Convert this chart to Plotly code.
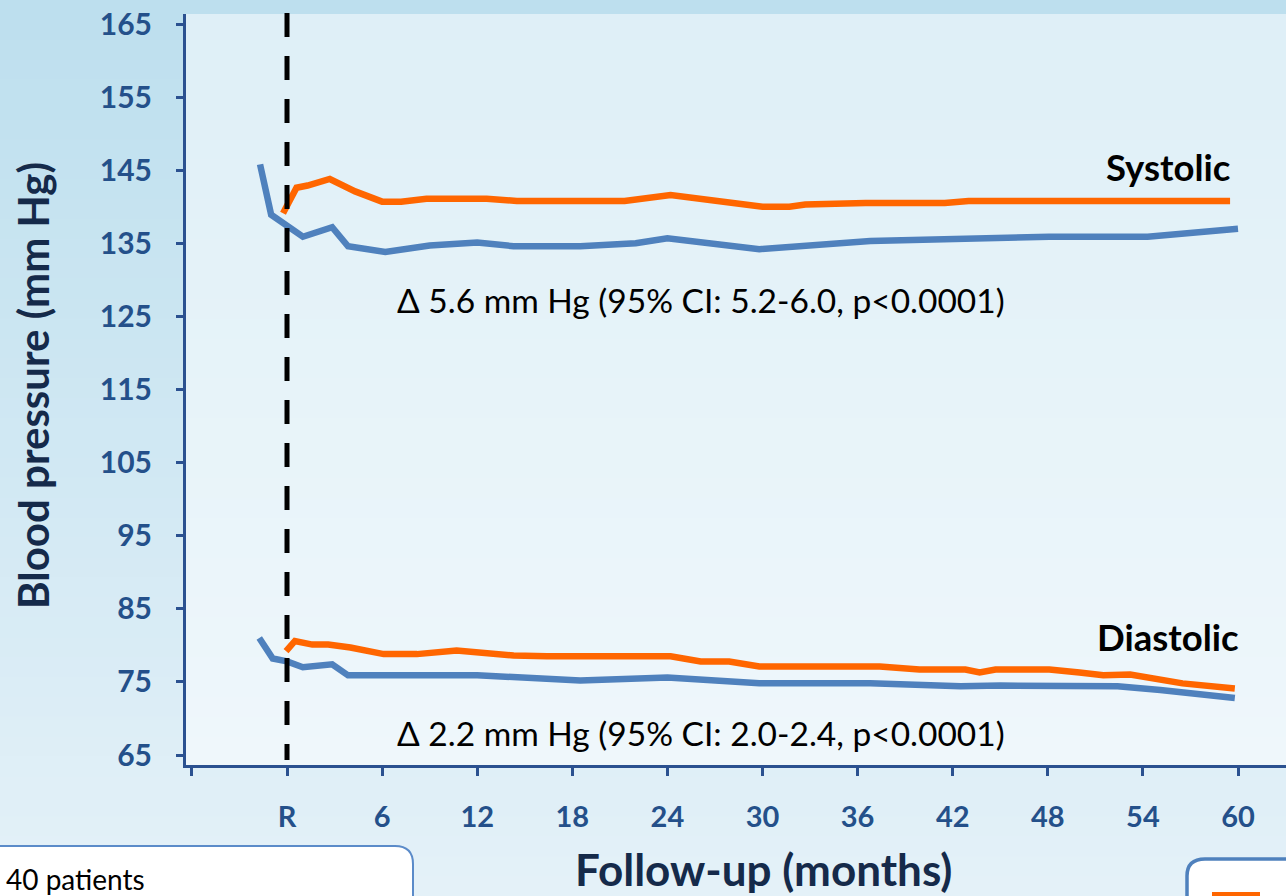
import plotly.graph_objects as go

# ---------------- data ----------------
sys_ctrl_month = [-1.7, -1.0, 1.0, 2.85, 3.85, 6.2, 9.0, 12.0, 14.3, 18.5, 22.0, 24.0, 29.8, 36.8, 48.1, 54.3, 60.0]
sys_ctrl_bp = [145.8, 138.9, 135.9, 137.2, 134.6, 133.8, 134.7, 135.1, 134.6, 134.6, 135.0, 135.7, 134.2, 135.3, 135.9, 135.9, 137.0]

sys_int_month = [-0.25, 0.6, 1.3, 2.7, 4.3, 6.0, 7.2, 8.8, 12.6, 14.5, 21.3, 24.2, 30.0, 31.7, 32.7, 36.5, 41.5, 43.0, 59.5]
sys_int_bp = [139.1, 142.6, 142.9, 143.8, 142.1, 140.7, 140.7, 141.1, 141.1, 140.8, 140.8, 141.6, 140.0, 140.0, 140.3, 140.5, 140.5, 140.8, 140.8]

dia_ctrl_month = [-1.75, -0.9, 0.0, 1.0, 2.85, 3.85, 6.1, 12.0, 18.5, 24.0, 29.8, 36.8, 42.5, 45.0, 52.4, 55.1, 59.8]
dia_ctrl_bp = [81.0, 78.2, 77.8, 77.0, 77.4, 75.9, 75.9, 75.9, 75.2, 75.6, 74.8, 74.8, 74.4, 74.5, 74.4, 73.9, 72.8]

dia_int_month = [-0.06, 0.5, 1.6, 2.6, 4.0, 6.1, 8.2, 10.7, 14.3, 16.4, 24.2, 26.1, 27.9, 29.8, 37.4, 39.9, 42.8, 43.7, 44.7, 48.1, 50.0, 51.5, 53.2, 54.4, 56.5, 59.8]
dia_int_bp = [79.2, 80.6, 80.1, 80.1, 79.7, 78.8, 78.8, 79.3, 78.6, 78.5, 78.5, 77.8, 77.8, 77.1, 77.1, 76.7, 76.7, 76.3, 76.7, 76.7, 76.3, 75.9, 76.0, 75.5, 74.8, 74.1]

x_tickvals = [-6, 0, 6, 12, 18, 24, 30, 36, 42, 48, 54, 60, 66]
x_ticktext = ["", "R", "6", "12", "18", "24", "30", "36", "42", "48", "54", "60", ""]
y_tickvals = [65, 75, 85, 95, 105, 115, 125, 135, 145, 155, 165]

sys_delta_text = "Δ 5.6 mm Hg (95% CI: 5.2-6.0, p<0.0001)"
dia_delta_text = "Δ 2.2 mm Hg (95% CI: 2.0-2.4, p<0.0001)"

# ---------------- layout geometry ----------------
W, H = 1286, 896
L, T, R_, B = 186, 14, 0, 131
PW, PH = W - L - R_, H - T - B


def px(x):
    return (x - L) / PW


def py(y):
    return (H - B - y) / PH


BLUE = "#4F81BD"
ORANGE = "#FF6600"
TICK = "#24508A"
AXIS = "#2B5190"
TITLE = "#152a4a"
LW = 6.5

fig = go.Figure()
fig.add_trace(go.Scatter(x=sys_ctrl_month, y=sys_ctrl_bp, mode="lines",
                         line=dict(color=BLUE, width=LW), hoverinfo="skip"))
fig.add_trace(go.Scatter(x=dia_ctrl_month, y=dia_ctrl_bp, mode="lines",
                         line=dict(color=BLUE, width=LW), hoverinfo="skip"))
fig.add_trace(go.Scatter(x=sys_int_month, y=sys_int_bp, mode="lines",
                         line=dict(color=ORANGE, width=LW), hoverinfo="skip"))
fig.add_trace(go.Scatter(x=dia_int_month, y=dia_int_bp, mode="lines",
                         line=dict(color=ORANGE, width=LW), hoverinfo="skip"))

shapes = []
# background vertical gradient
top_c = (189, 223, 238)
bot_c = (228, 241, 248)
nb = 45
for i in range(nb):
    t = i / (nb - 1)
    c = tuple(round(top_c[k] + (bot_c[k] - top_c[k]) * t) for k in range(3))
    y0 = i * H / nb
    y1 = (i + 1) * H / nb + 1
    shapes.append(dict(type="rect", xref="paper", yref="paper",
                       x0=px(-2), x1=px(W + 2), y0=py(y1), y1=py(y0),
                       fillcolor="rgb(%d,%d,%d)" % c, line=dict(width=0), layer="below"))
# lighter plot area
shapes.append(dict(type="rect", xref="paper", yref="paper", x0=0, x1=1, y0=0, y1=1,
                   fillcolor="rgba(255,255,255,0.5)", line=dict(width=0), layer="below"))
# randomisation line
shapes.append(dict(type="line", xref="x", yref="paper", x0=0, x1=0, y0=py(13), y1=py(760),
                   line=dict(color="black", width=5, dash="24px,19px"), layer="above"))
# bottom-left box
shapes.append(dict(type="path", xref="paper", yref="paper",
                   path="M %f %f L %f %f L %f %f Q %f %f %f %f L %f %f Z" % (
                       px(-5), py(905), px(-5), py(846), px(395), py(846),
                       px(413), py(846), px(413), py(864), px(413), py(905)),
                   fillcolor="white", line=dict(color="#5B8BC9", width=2), layer="above"))
# bottom-right box
shapes.append(dict(type="path", xref="paper", yref="paper",
                   path="M %f %f L %f %f Q %f %f %f %f L %f %f L %f %f Z" % (
                       px(1187), py(905), px(1187), py(876), px(1187), py(859),
                       px(1205), py(859), px(1295), py(859), px(1295), py(905)),
                   fillcolor="white", line=dict(color=BLUE, width=3.5), layer="above"))
shapes.append(dict(type="rect", xref="paper", yref="paper",
                   x0=px(1212), x1=px(1260), y0=py(900), y1=py(892),
                   fillcolor=ORANGE, line=dict(width=0), layer="above"))

annotations = [
    dict(text=sys_delta_text, xref="paper", yref="paper", x=px(395), y=py(300),
         xanchor="left", yanchor="middle", showarrow=False,
         font=dict(family="Lato", size=33.5, color="black")),
    dict(text=dia_delta_text, xref="paper", yref="paper", x=px(395), y=py(733),
         xanchor="left", yanchor="middle", showarrow=False,
         font=dict(family="Lato", size=33.5, color="black")),
    dict(text="Systolic", xref="paper", yref="paper", x=px(1233), y=py(167),
         xanchor="right", yanchor="middle", showarrow=False,
         font=dict(family="Lato", size=36.5, color="black", weight="bold")),
    dict(text="Diastolic", xref="paper", yref="paper", x=px(1241), y=py(637),
         xanchor="right", yanchor="middle", showarrow=False,
         font=dict(family="Lato", size=36.5, color="black", weight="bold")),
    dict(text="Blood pressure (mm Hg)", xref="paper", yref="paper", x=px(33), y=py(386),
         xanchor="center", yanchor="middle", textangle=-90, showarrow=False,
         font=dict(family="Lato", size=42, color=TITLE, weight="bold")),
    dict(text="Follow-up (months)", xref="paper", yref="paper", x=px(763), y=py(869),
         xanchor="center", yanchor="middle", showarrow=False,
         font=dict(family="Lato", size=44, color=TITLE, weight="bold")),
    dict(text="40 patients", xref="paper", yref="paper", x=px(4), y=py(879),
         xanchor="left", yanchor="middle", showarrow=False,
         font=dict(family="Lato", size=28, color="black")),
]

fig.update_layout(
    width=W, height=H,
    margin=dict(l=L, r=R_, t=T, b=B, pad=0),
    paper_bgcolor="rgb(210,232,243)",
    plot_bgcolor="rgba(0,0,0,0)",
    showlegend=False,
    shapes=shapes,
    annotations=annotations,
    xaxis=dict(range=[(L - 287) / 15.85, (W - 287) / 15.85], showgrid=False, zeroline=False,
               showline=True, linecolor=AXIS, linewidth=3,
               ticks="outside", ticklen=8, tickwidth=3, tickcolor=AXIS,
               tickvals=x_tickvals, ticktext=x_ticktext, ticklabelstandoff=16,
               tickfont=dict(family="Lato", size=29, color=TICK, weight="bold")),
    yaxis=dict(range=[65 - (765 - 755) / 7.31, 165 + (24 - 14) / 7.31], showgrid=False, zeroline=False,
               showline=True, linecolor=AXIS, linewidth=3,
               ticks="outside", ticklen=7, tickwidth=3, tickcolor=AXIS,
               tickvals=y_tickvals, ticklabelstandoff=18,
               tickfont=dict(family="Lato", size=30, color=TICK, weight="bold")),
)

fig.write_html("out.html", config={"displayModeBar": False},
               post_script="document.body.style.margin='0';document.body.style.overflow='hidden';")
